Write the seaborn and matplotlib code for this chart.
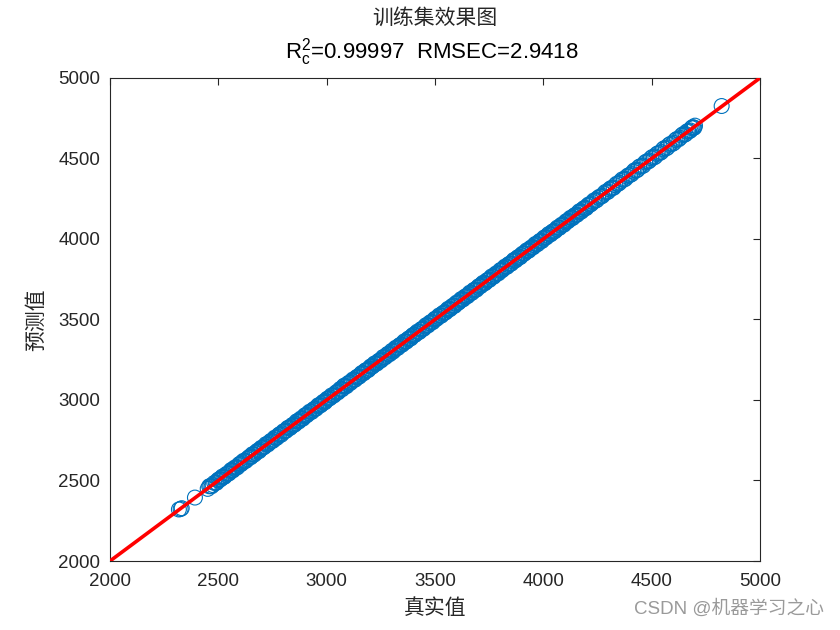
import matplotlib
matplotlib.use("Agg")
import matplotlib.pyplot as plt
import seaborn as sns
import pandas as pd

# ---- data ----
true_a = [
    2318, 2326, 2392, 2451, 2463, 2474, 2488, 2497, 2506, 2515,
    2524, 2533, 2545, 2556, 2564, 2572, 2583, 2594, 2603, 2611,
    2622, 2634, 2645, 2653, 2661, 2672, 2684, 2693, 2702, 2714,
    2725, 2733, 2744, 2756, 2765, 2773, 2784, 2795, 2806, 2814,
    2826, 2837, 2845, 2856, 2867, 2875, 2886, 2897, 2905, 2916,
    2928, 2936, 2947, 2958, 2966, 2977, 2988, 2996, 3007, 3018,
    3026, 3037, 3048, 3057, 3066, 3078, 3086, 3097, 3108, 3116,
    3127, 3138, 3146, 3157, 3168, 3177, 3186, 3197, 3206, 3214,
    3225, 3236, 3245, 3254, 3265, 3276, 3284, 3295, 3306, 3314,
    3323, 3334, 3345, 3353, 3364, 3375, 3383, 3394, 3405, 3413,
    3424, 3435, 3443, 3454, 3465, 3474, 3485, 3496, 3504, 3515,
    3526, 3534, 3545, 3556, 3565, 3576, 3587, 3595, 3606, 3617,
    3625, 3636, 3647, 3655, 3666, 3677, 3686, 3697, 3708, 3716,
    3727, 3738, 3746, 3757, 3768, 3777, 3788, 3799, 3807, 3818,
    3829, 3837, 3848, 3859, 3868, 3879, 3890, 3898, 3909, 3920,
    3928, 3939, 3950, 3958, 3969, 3980, 3989, 4000, 4011, 4019,
    4030, 4041, 4049, 4060, 4071, 4080, 4091, 4102, 4110, 4121,
    4132, 4140, 4151, 4162, 4171, 4182, 4193, 4204, 4216, 4228,
    4240, 4253, 4266, 4280, 4293, 4305, 4318, 4332, 4345, 4358,
    4372, 4386, 4400, 4415, 4428, 4442, 4455, 4470, 4484, 4497,
    4510, 4524, 4538, 4552, 4566, 4580, 4595, 4610, 4624, 4638,
    4651, 4662, 4673, 4684, 4693, 4700, 4823,
]
pred_a = [
    2320, 2323, 2394, 2448, 2466, 2472, 2486, 2501, 2505, 2518,
    2521, 2534, 2542, 2559, 2563, 2575, 2580, 2596, 2601, 2615,
    2620, 2633, 2648, 2650, 2663, 2670, 2687, 2691, 2704, 2711,
    2727, 2732, 2747, 2753, 2766, 2771, 2788, 2793, 2808, 2811,
    2829, 2835, 2846, 2853, 2870, 2874, 2883, 2900, 2903, 2919,
    2925, 2937, 2944, 2961, 2965, 2974, 2991, 2994, 3010, 3015,
    3027, 3034, 3051, 3055, 3069, 3085, 3084, 3099, 3105, 3119,
    3125, 3141, 3143, 3160, 3166, 3181, 3184, 3195, 3209, 3212,
    3228, 3233, 3246, 3251, 3268, 3274, 3287, 3292, 3300, 3317,
    3321, 3337, 3343, 3356, 3361, 3377, 3381, 3397, 3403, 3416,
    3421, 3437, 3440, 3457, 3463, 3477, 3482, 3498, 3502, 3518,
    3523, 3536, 3543, 3559, 3562, 3578, 3585, 3598, 3603, 3619,
    3623, 3639, 3644, 3657, 3664, 3680, 3683, 3699, 3706, 3719,
    3724, 3740, 3744, 3760, 3765, 3779, 3786, 3802, 3804, 3820,
    3827, 3840, 3845, 3861, 3866, 3882, 3887, 3900, 3907, 3923,
    3925, 3941, 3948, 3961, 3966, 3982, 3987, 4003, 4008, 4021,
    4028, 4044, 4046, 4062, 4069, 4083, 4088, 4104, 4108, 4124,
    4129, 4142, 4149, 4165, 4168, 4184, 4191, 4207, 4213, 4230,
    4237, 4256, 4263, 4282, 4290, 4308, 4315, 4334, 4342, 4361,
    4369, 4388, 4397, 4418, 4425, 4448, 4452, 4476, 4481, 4502,
    4506, 4528, 4534, 4557, 4562, 4585, 4590, 4615, 4619, 4643,
    4647, 4667, 4669, 4689, 4690, 4704, 4826,
]
true_b = [
    2331, 2458, 2469, 2481, 2492, 2502, 2511, 2519, 2529, 2539,
    2550, 2560, 2568, 2578, 2588, 2598, 2607, 2617, 2627, 2639,
    2649, 2657, 2666, 2677, 2688, 2697, 2708, 2719, 2729, 2739,
    2750, 2760, 2769, 2779, 2790, 2800, 2810, 2820, 2831, 2841,
    2851, 2861, 2871, 2881, 2891, 2901, 2911, 2922, 2932, 2942,
    2952, 2962, 2972, 2982, 2992, 3002, 3012, 3022, 3032, 3042,
    3052, 3062, 3072, 3082, 3092, 3102, 3112, 3122, 3132, 3142,
    3152, 3162, 3172, 3182, 3192, 3202, 3210, 3220, 3230, 3240,
    3250, 3260, 3270, 3280, 3290, 3300, 3310, 3319, 3329, 3339,
    3349, 3359, 3369, 3379, 3389, 3399, 3409, 3419, 3429, 3439,
    3449, 3459, 3469, 3480, 3490, 3500, 3510, 3520, 3530, 3540,
    3550, 3561, 3571, 3581, 3591, 3601, 3611, 3621, 3631, 3641,
    3651, 3661, 3671, 3681, 3692, 3702, 3712, 3722, 3732, 3742,
    3752, 3762, 3772, 3783, 3793, 3803, 3813, 3823, 3833, 3843,
    3853, 3864, 3874, 3884, 3894, 3904, 3914, 3924, 3934, 3944,
    3954, 3964, 3974, 3984, 3994, 4005, 4015, 4025, 4035, 4045,
    4055, 4065, 4075, 4086, 4096, 4106, 4116, 4126, 4136, 4146,
    4156, 4167, 4177, 4188, 4198, 4210, 4222, 4234, 4247, 4260,
    4273, 4287, 4299, 4312, 4325, 4339, 4352, 4365, 4379, 4393,
    4408, 4421, 4435, 4449, 4462, 4477, 4490, 4504, 4517, 4531,
    4545, 4559, 4573, 4588, 4603, 4617, 4631, 4645, 4657, 4668,
    4679, 4689, 4697,
]
pred_b = [
    2328, 2464, 2464, 2485, 2486, 2507, 2508, 2525, 2524, 2542,
    2545, 2566, 2563, 2582, 2582, 2603, 2604, 2623, 2622, 2642,
    2644, 2663, 2661, 2681, 2682, 2702, 2705, 2725, 2724, 2742,
    2745, 2766, 2764, 2783, 2784, 2805, 2807, 2826, 2826, 2844,
    2846, 2867, 2866, 2885, 2885, 2906, 2908, 2928, 2927, 2945,
    2947, 2968, 2967, 2986, 2986, 3007, 3009, 3028, 3027, 3045,
    3047, 3068, 3067, 3090, 3086, 3107, 3109, 3128, 3127, 3145,
    3147, 3168, 3167, 3186, 3186, 3207, 3207, 3226, 3225, 3243,
    3245, 3266, 3265, 3284, 3284, 3305, 3307, 3325, 3324, 3342,
    3344, 3365, 3364, 3383, 3383, 3404, 3406, 3425, 3424, 3442,
    3444, 3465, 3464, 3484, 3484, 3505, 3507, 3526, 3525, 3543,
    3545, 3567, 3566, 3585, 3585, 3606, 3608, 3627, 3626, 3644,
    3646, 3667, 3666, 3685, 3686, 3707, 3709, 3728, 3727, 3745,
    3747, 3768, 3767, 3787, 3787, 3808, 3810, 3829, 3828, 3846,
    3848, 3870, 3869, 3888, 3888, 3909, 3911, 3930, 3929, 3947,
    3949, 3970, 3969, 3988, 3988, 4010, 4012, 4031, 4030, 4048,
    4050, 4071, 4070, 4090, 4090, 4111, 4113, 4132, 4131, 4149,
    4151, 4173, 4172, 4192, 4192, 4215, 4219, 4240, 4242, 4263,
    4268, 4293, 4294, 4316, 4319, 4344, 4349, 4371, 4374, 4396,
    4403, 4427, 4430, 4453, 4456, 4482, 4487, 4510, 4512, 4534,
    4540, 4565, 4568, 4592, 4597, 4622, 4628, 4651, 4652, 4671,
    4674, 4695, 4692,
]
line_x = [2000, 5000]
line_y = [2000, 5000]
ticks = [2000, 2500, 3000, 3500, 4000, 4500, 5000]

title_cn = "训练集效果图"
title_stats = r"R$_\mathregular{c}^\mathregular{2}$=0.99997  RMSEC=2.9418"
xlabel = "真实值"
ylabel = "预测值"
watermark = "CSDN @机器学习之心"

# ---- style ----
sns.set_theme(style="white")
plt.rcParams["font.family"] = ["Liberation Sans", "Noto Sans CJK SC", "DejaVu Sans"]
plt.rcParams["mathtext.fontset"] = "custom"
plt.rcParams["mathtext.rm"] = "Liberation Sans"
plt.rcParams["mathtext.it"] = "Liberation Sans"

df = pd.DataFrame({"true": true_a + true_b, "pred": pred_a + pred_b})

fig = plt.figure(figsize=(8.4, 6.3), dpi=100)
ax = fig.add_axes([110 / 840, 1 - 561 / 630, 650 / 840, 483 / 630])

sns.scatterplot(data=df, x="true", y="pred", ax=ax, marker="o",
                s=115, facecolors="none", edgecolor="#0072BD", linewidth=0.8,
                legend=False, zorder=2)
sns.lineplot(x=line_x, y=line_y, ax=ax, color="#FF0000", linewidth=2.6, zorder=3)

ax.set_xlim(2000, 5000)
ax.set_ylim(2000, 5000)
ax.set_xticks(ticks)
ax.set_yticks(ticks)
ax.tick_params(axis="both", direction="in", length=5, width=0.8, colors="#262626",
               labelsize=13.5, top=True, right=True, labeltop=False, labelright=False)
ax.tick_params(axis="x", pad=9)
ax.tick_params(axis="y", pad=7)
for lab in ax.get_xticklabels() + ax.get_yticklabels():
    lab.set_color("#262626")
for sp in ax.spines.values():
    sp.set_color("#262626")
    sp.set_linewidth(0.8)

ax.set_xlabel(xlabel, family=["Noto Sans CJK SC"], fontsize=15, color="#262626", labelpad=5)
ax.set_ylabel(ylabel, family=["Noto Sans CJK SC"], fontsize=15, color="#262626", labelpad=8)

fig.text(435 / 840, 1 - 18 / 630, title_cn, family=["Noto Sans CJK SC"], fontsize=15,
         ha="center", va="center", color="#262626")
fig.text(432 / 840, 1 - 52 / 630, title_stats, fontsize=16,
         ha="center", va="center", color="#000000")

fig.text(824 / 840, 1 - 609 / 630, watermark, family=["Liberation Sans", "Noto Sans CJK SC"],
         fontsize=13.5, ha="right", va="center", color="#9a9a9a")

fig.savefig("out.png", dpi=100, facecolor="white")
